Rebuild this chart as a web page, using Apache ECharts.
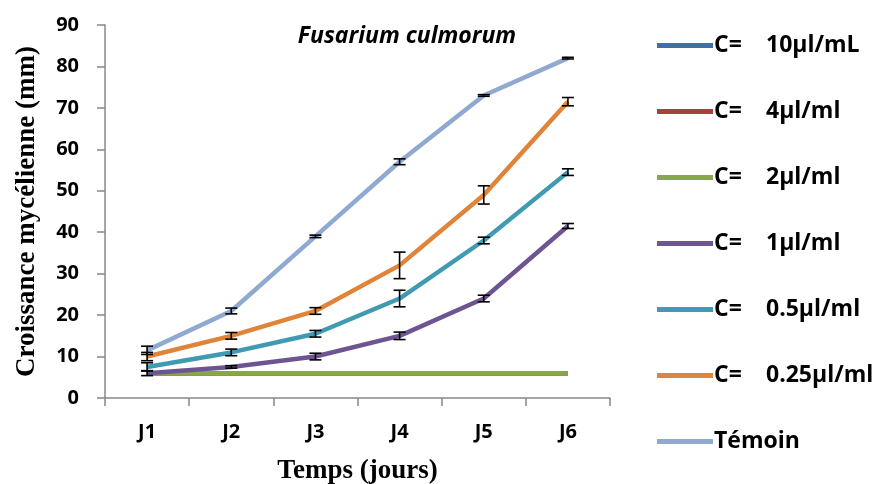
<!DOCTYPE html>
<html>
<head>
<meta charset="utf-8">
<script src="https://cdn.jsdelivr.net/npm/echarts@6/dist/echarts.min.js"></script>
<style>
  html, body { margin: 0; padding: 0; background: #fff; }
  #chart { width: 875px; height: 484px; }
</style>
</head>
<body>
<div id="chart"></div>
<script>
// data
const days = ['J1', 'J2', 'J3', 'J4', 'J5', 'J6']
const yTicks = [0, 10, 20, 30, 40, 50, 60, 70, 80, 90]

const c10 = [6, 6, 6, 6, 6, 6]
const c4 = [6, 6, 6, 6, 6, 6]
const c2 = [6, 6, 6, 6, 6, 6]
const c1 = [6, 7.5, 10, 15, 24, 41.5]
const c05 = [7.5, 11, 15.5, 24, 38, 54.5]
const c025 = [10, 15, 21, 32, 49, 71.5]
const temoin = [11.5, 21, 39, 57, 73, 82]

// standard errors
const err1 = [0.6, 0.3, 0.8, 0.9, 0.8, 0.6]
const err05 = [1, 0.8, 0.8, 2, 0.8, 0.8]
const err025 = [1, 0.8, 0.8, 3.2, 2.2, 1]
const errTemoin = [1, 0.7, 0.3, 0.7, 0.2, 0.2]

const names = ['C= 10µl/mL', 'C= 4µl/ml', 'C= 2µl/ml', 'C= 1µl/ml', 'C= 0.5µl/ml', 'C= 0.25µl/ml', 'Témoin']
const colors = ['#3f6ea8', '#a8403d', '#86a84a', '#6d5592', '#3f9ab2', '#e0843a', '#8fa9d1']
const values = [c10, c4, c2, c1, c05, c025, temoin]

const chart = echarts.init(document.getElementById('chart'))

function errSeries(vals, errs) {
  return {
    type: 'custom',
    z: 5,
    data: vals.map((v, i) => [i, v - errs[i], v + errs[i]]),
    renderItem(params, api) {
      const lo = api.coord([api.value(0), api.value(1)])
      const hi = api.coord([api.value(0), api.value(2)])
      const w = 6
      const st = { stroke: '#000', lineWidth: 1.6 }
      return {
        type: 'group',
        children: [
          { type: 'line', shape: { x1: lo[0], y1: lo[1], x2: hi[0], y2: hi[1] }, style: st },
          { type: 'line', shape: { x1: lo[0] - w, y1: lo[1], x2: lo[0] + w, y2: lo[1] }, style: st },
          { type: 'line', shape: { x1: hi[0] - w, y1: hi[1], x2: hi[0] + w, y2: hi[1] }, style: st }
        ]
      }
    }
  }
}

const lineSeries = names.map((n, i) => ({
  name: n,
  type: 'line',
  data: values[i],
  symbol: 'none',
  z: 3,
  lineStyle: { width: 4.5, color: colors[i] },
  itemStyle: { color: colors[i] }
}))

const labelFont = { fontFamily: 'Open Sans', fontWeight: 'bold', fontSize: 20, color: '#000' }
const legendFont = { fontFamily: 'Open Sans', fontWeight: 'bold', fontSize: 23, color: '#000' }

const option = {
  animation: false,
  title: {
    text: 'Fusarium culmorum',
    left: 402,
    top: 20,
    textAlign: 'center',
    textStyle: { fontFamily: 'Open Sans', fontStyle: 'italic', fontWeight: 'bold', fontSize: 23, color: '#000' }
  },
  legend: {
    orient: 'vertical',
    left: 652,
    top: 29,
    itemWidth: 56,
    itemHeight: 5,
    itemGap: 43,
    icon: 'rect',
    data: names,
    formatter(name) {
      if (name.indexOf('C= ') === 0) {
        return '{a|C=}{b|' + name.slice(3) + '}'
      }
      return '{c|' + name + '}'
    },
    textStyle: {
      padding: [0, 0, 0, -4],
      rich: {
        a: Object.assign({ width: 52 }, legendFont),
        b: legendFont,
        c: legendFont
      }
    }
  },
  grid: { left: 105, right: 265, top: 25, bottom: 86, outerBoundsMode: 'none' },
  xAxis: {
    type: 'category',
    data: days,
    name: 'Temps (jours)',
    nameLocation: 'middle',
    nameGap: 60,
    nameTextStyle: { fontFamily: 'Liberation Serif', fontWeight: 'bold', fontSize: 27, color: '#000' },
    axisLine: { lineStyle: { color: '#888', width: 1.5 } },
    axisTick: { show: true, length: 8, lineStyle: { color: '#888', width: 1.5 } },
    axisLabel: Object.assign({ margin: 24 }, labelFont)
  },
  yAxis: {
    type: 'value',
    min: yTicks[0],
    max: yTicks[yTicks.length - 1],
    interval: 10,
    name: 'Croissance mycélienne (mm)',
    nameLocation: 'middle',
    nameGap: 64,
    nameTextStyle: { fontFamily: 'Liberation Serif', fontWeight: 'bold', fontSize: 27, color: '#000' },
    splitLine: { show: false },
    axisLine: { show: true, lineStyle: { color: '#888', width: 1.5 } },
    axisTick: { show: true, length: 8, lineStyle: { color: '#888', width: 1.5 } },
    axisLabel: Object.assign({ margin: 26 }, labelFont)
  },
  series: lineSeries.concat([
    errSeries(c1, err1),
    errSeries(c05, err05),
    errSeries(c025, err025),
    errSeries(temoin, errTemoin)
  ])
}

chart.setOption(option)
</script>
</body>
</html>
